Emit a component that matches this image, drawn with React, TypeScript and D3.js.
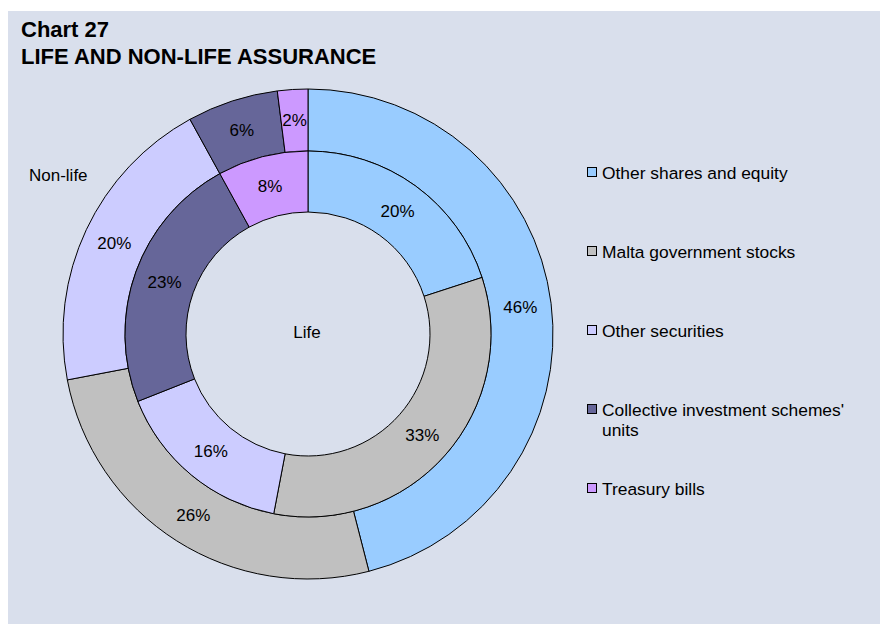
import React from 'react';
import * as d3 from 'd3';

const categories = [
  'Other shares and equity',
  'Malta government stocks',
  'Other securities',
  "Collective investment schemes' units",
  'Treasury bills',
];
const legendLines = [
  ['Other shares and equity'],
  ['Malta government stocks'],
  ['Other securities'],
  ['Collective investment schemes\'', 'units'],
  ['Treasury bills'],
];
const nonLifeValues = [46, 26, 20, 6, 2];
const lifeValues = [20, 33, 16, 23, 8];
const colors = ['#99ccff', '#c0c0c0', '#ccccff', '#666699', '#cc99ff'];

const W = 880;
const H = 624;
const cx = 308;
const cy = 334;
const rHole = 122;
const rMid = 183;
const rOuter = 245;
const font = '"Liberation Sans", Arial, sans-serif';

export default function App() {
  const color = d3.scaleOrdinal<string, string>().domain(categories).range(colors);
  const pie = d3.pie<number>().sort(null).value(d => d);

  const inner = d3.arc<d3.PieArcDatum<number>>().innerRadius(rHole).outerRadius(rMid);
  const outer = d3.arc<d3.PieArcDatum<number>>().innerRadius(rMid).outerRadius(rOuter);

  const lifeArcs = pie(lifeValues);
  const nonLifeArcs = pie(nonLifeValues);

  const legendY = d3.scalePoint<number>().domain(d3.range(categories.length)).range([173, 489]);

  return (
    <svg width={W} height={H} style={{ position: 'absolute', left: 0, top: 0, fontFamily: font }}>
      <rect x={0} y={0} width={W} height={H} fill="#ffffff" />
      <rect x={8} y={11} width={W - 8} height={H - 11} fill="#d9dfec" />
      <text x={21} y={37} fontSize={22} fontWeight="bold" fill="#000">Chart 27</text>
      <text x={21} y={64} fontSize={22} fontWeight="bold" fill="#000">LIFE AND NON-LIFE ASSURANCE</text>

      <g transform={`translate(${cx},${cy})`}>
        {nonLifeArcs.map((a, i) => (
          <path key={'o' + i} d={outer(a) || ''} fill={color(categories[i])} stroke="#000" strokeWidth={1} />
        ))}
        {lifeArcs.map((a, i) => (
          <path key={'i' + i} d={inner(a) || ''} fill={color(categories[i])} stroke="#000" strokeWidth={1} />
        ))}
        {nonLifeArcs.map((a, i) => {
          const [x, y] = outer.centroid(a);
          return (
            <text key={'ol' + i} x={x} y={y} dy="0.35em" textAnchor="middle" fontSize={17} fill="#000">
              {a.data}%
            </text>
          );
        })}
        {lifeArcs.map((a, i) => {
          const [x, y] = inner.centroid(a);
          return (
            <text key={'il' + i} x={x} y={y} dy="0.35em" textAnchor="middle" fontSize={17} fill="#000">
              {a.data}%
            </text>
          );
        })}
        <text x={-1} y={4} textAnchor="middle" fontSize={17} fill="#000">Life</text>
      </g>
      <text x={29} y={181} fontSize={17} fill="#000">Non-life</text>

      {categories.map((c, i) => {
        const y = legendY(i) || 0;
        return (
          <g key={c}>
            <rect x={587.5} y={y - 5.5} width={9} height={9} fill={colors[i]} stroke="#000" strokeWidth={1} />
            {legendLines[i].map((line, j) => (
              <text key={j} x={602} y={y + 6 + j * 19.5} fontSize={17.4} fill="#000">{line}</text>
            ))}
          </g>
        );
      })}
    </svg>
  );
}
